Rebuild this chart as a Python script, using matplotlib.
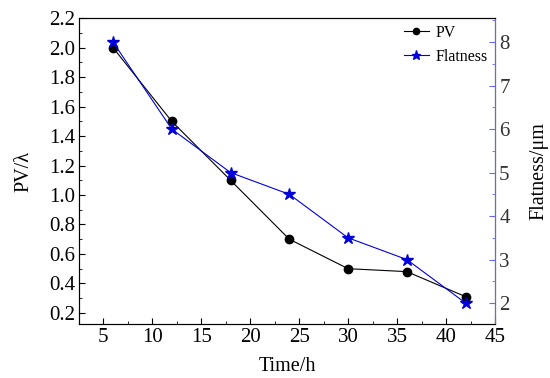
import matplotlib
matplotlib.use("Agg")
import matplotlib.pyplot as plt
from matplotlib.ticker import MultipleLocator

# data
time_h = [6, 12, 18, 24, 30, 36, 42]
pv = [2.0, 1.5, 1.1, 0.7, 0.5, 0.48, 0.31]
flatness = [8.0, 6.0, 5.0, 4.5, 3.5, 3.0, 2.0]

plt.rcParams['font.family'] = ['Liberation Serif', 'DejaVu Serif']

fig, ax = plt.subplots(figsize=(5.5, 3.78), dpi=100)
fig.subplots_adjust(left=0.144, right=0.9, top=0.952, bottom=0.143)

l1, = ax.plot(time_h, pv, '-o', color='black', lw=0.8, markersize=6, label='PV')
ax2 = ax.twinx()
l2, = ax2.plot(time_h, flatness, '-*', color='#0000dd', lw=0.8, markersize=9, label='Flatness')

ax.set_xlim(2.55, 45)
ax.set_ylim(0.125, 2.2)
ax2.set_ylim(1.52, 8.55)

ax.xaxis.set_major_locator(MultipleLocator(5))
ax.xaxis.set_minor_locator(MultipleLocator(2.5))
ax.yaxis.set_major_locator(MultipleLocator(0.2))
ax.yaxis.set_minor_locator(MultipleLocator(0.1))
ax2.yaxis.set_major_locator(MultipleLocator(1))
ax2.yaxis.set_minor_locator(MultipleLocator(0.5))

for a in (ax, ax2):
    a.tick_params(which='both', direction='in', labelsize=15, pad=3)
    a.tick_params(which='major', length=4)
    a.tick_params(which='minor', length=2)
ax.tick_params(axis='y', which='both', right=False)
ax.tick_params(axis='x', which='both', top=False)
ax2.tick_params(axis='y', which='both', colors='#6666ee', labelcolor='#333333')

ax2.spines['right'].set_color('#6666ee')
for s in ('left', 'bottom', 'top'):
    ax.spines[s].set_color('#333333')

ax.set_xlabel('Time/h', fontsize=14.5, labelpad=7)
ax.set_ylabel('PV/λ', fontsize=14.5, labelpad=11)
ax2.set_ylabel('Flatness/μm', fontsize=14.5, labelpad=14)

ax.legend([l1, l2], ['PV', 'Flatness'], loc='upper right', frameon=False,
          fontsize=11.5, handlelength=1.6, borderaxespad=0.2, labelspacing=0.5,
          markerscale=0.75, handletextpad=0.4, bbox_to_anchor=(1.006, 1.01))

fig.savefig('out.png')
